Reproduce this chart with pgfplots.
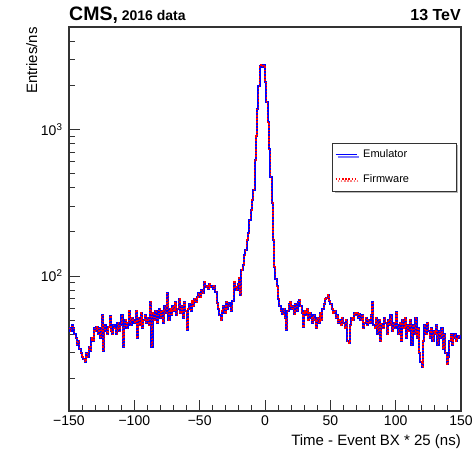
\documentclass[border=0pt]{standalone}
\usepackage{fontspec}
\setmainfont{Liberation Sans}
\usepackage{pgfplots}
\usepackage{pgfplotstable}
\pgfplotsset{compat=1.18}
\usetikzlibrary{shadows}

\pgfplotstableread[row sep=\\]{
x y\\
-150 44\\ -149 42\\ -148 46\\ -147 44\\ -146 40\\ -145 38\\ -144 34\\ -143 36\\ -142 32\\ -141 30\\
-140 28\\ -139 27\\ -138 26\\ -137 30\\ -136 28\\ -135 33\\ -134 31\\ -133 38\\ -132 36\\ -131 44\\
-130 42\\ -129 45\\ -128 40\\ -127 44\\ -126 38\\ -125 54\\ -124 31\\ -123 46\\ -122 42\\ -121 40\\
-120 45\\ -119 53\\ -118 42\\ -117 40\\ -116 46\\ -115 44\\ -114 40\\ -113 48\\ -112 42\\ -111 46\\
-110 54\\ -109 33\\ -108 46\\ -107 50\\ -106 44\\ -105 48\\ -104 58\\ -103 46\\ -102 52\\ -101 50\\
-100 48\\ -99 58\\ -98 38\\ -97 52\\ -96 46\\ -95 56\\ -94 44\\ -93 50\\ -92 54\\ -91 48\\
-90 52\\ -89 46\\ -88 67\\ -87 33\\ -86 56\\ -85 50\\ -84 58\\ -83 48\\ -82 54\\ -81 60\\
-80 52\\ -79 58\\ -78 48\\ -77 62\\ -76 56\\ -75 76\\ -74 50\\ -73 60\\ -72 54\\ -71 62\\
-70 58\\ -69 66\\ -68 54\\ -67 60\\ -66 70\\ -65 56\\ -64 62\\ -63 52\\ -62 66\\ -61 58\\
-60 43\\ -59 60\\ -58 64\\ -57 58\\ -56 68\\ -55 62\\ -54 70\\ -53 66\\ -52 72\\ -51 76\\
-50 72\\ -49 80\\ -48 76\\ -47 91\\ -46 84\\ -45 86\\ -44 82\\ -43 88\\ -42 84\\ -41 85\\
-40 82\\ -39 86\\ -38 78\\ -37 65\\ -36 60\\ -35 54\\ -34 50\\ -33 58\\ -32 62\\ -31 56\\
-30 67\\ -29 60\\ -28 65\\ -27 62\\ -26 58\\ -25 68\\ -24 91\\ -23 84\\ -22 80\\ -21 88\\
-20 97\\ -19 74\\ -18 110\\ -17 118\\ -16 139\\ -15 150\\ -14 176\\ -13 197\\ -12 240\\ -11 283\\
-10 330\\ -9 388\\ -8 620\\ -7 900\\ -6 1370\\ -5 1980\\ -4 2700\\ -3 2760\\ -2 2680\\ -1 2740\\
0 2100\\ 1 1530\\ 2 1120\\ 3 730\\ 4 476\\ 5 316\\ 6 176\\ 7 115\\ 8 95\\ 9 85\\
10 70\\ 11 62\\ 12 58\\ 13 55\\ 14 60\\ 15 52\\ 16 43\\ 17 58\\ 18 64\\ 19 67\\
20 60\\ 21 62\\ 22 55\\ 23 64\\ 24 58\\ 25 66\\ 26 69\\ 27 62\\ 28 56\\ 29 45\\
30 58\\ 31 54\\ 32 60\\ 33 50\\ 34 56\\ 35 52\\ 36 48\\ 37 54\\ 38 50\\ 39 44\\
40 52\\ 41 48\\ 42 56\\ 43 50\\ 44 60\\ 45 64\\ 46 70\\ 47 71\\ 48 74\\ 49 68\\
50 64\\ 51 60\\ 52 56\\ 53 58\\ 54 52\\ 55 54\\ 56 48\\ 57 50\\ 58 46\\ 59 52\\
60 48\\ 61 44\\ 62 50\\ 63 36\\ 64 35\\ 65 46\\ 66 52\\ 67 50\\ 68 56\\ 69 54\\
70 56\\ 71 52\\ 72 55\\ 73 50\\ 74 54\\ 75 44\\ 76 48\\ 77 52\\ 78 46\\ 79 50\\
80 48\\ 81 54\\ 82 66\\ 83 46\\ 84 44\\ 85 52\\ 86 40\\ 87 50\\ 88 36\\ 89 47\\
90 44\\ 91 52\\ 92 48\\ 93 40\\ 94 50\\ 95 46\\ 96 54\\ 97 42\\ 98 48\\ 99 44\\
100 57\\ 101 46\\ 102 40\\ 103 48\\ 104 36\\ 105 50\\ 106 44\\ 107 52\\ 108 38\\ 109 46\\
110 42\\ 111 50\\ 112 34\\ 113 46\\ 114 40\\ 115 52\\ 116 38\\ 117 44\\ 118 30\\ 119 26\\
120 24\\ 121 36\\ 122 46\\ 123 40\\ 124 48\\ 125 42\\ 126 38\\ 127 44\\ 128 36\\ 129 42\\
130 40\\ 131 46\\ 132 34\\ 133 42\\ 134 38\\ 135 44\\ 136 32\\ 137 40\\ 138 30\\ 139 25\\
140 28\\ 141 36\\ 142 40\\ 143 34\\ 144 38\\ 145 40\\ 146 36\\ 147 38\\ 148 39\\ 149 38\\
150 38\\
}\histdata

\begin{document}
\begin{tikzpicture}[x=1pt,y=1pt]
\useasboundingbox (0,0) rectangle (474,452);
\begin{axis}[
  at={(69pt,41pt)}, anchor=south west,
  scale only axis, width=392pt, height=384pt,
  ymode=log, xmin=-150, xmax=150, ymin=12, ymax=5000,
  axis line style={line width=1.6pt, draw=black!80},
  tick pos=left, tick align=inside,
  xtick={-150,-100,...,150},
  xticklabels={−150,−100,−50,0,50,100,150},
  minor xtick={-140,-130,...,140},
  ytick={100,1000},
  yticklabels={10\textsuperscript{2},10\textsuperscript{3}},
  minor ytick={20,30,40,50,60,70,80,90,200,300,400,500,600,700,800,900,2000,3000,4000},
  major tick length=11pt, minor tick length=5.5pt,
  every tick/.style={black!80, line width=1pt},
  tick label style={font=\fontsize{14}{16}\selectfont},
  xticklabel style={yshift=-1pt},
  yticklabel style={xshift=-3pt},
  legend style={at={(0.672,0.699)}, anchor=north west, draw=black!80, line width=0.8pt, fill=white,
    font=\fontsize{11}{13}\selectfont,
    drop shadow={shadow xshift=2pt, shadow yshift=-2pt, fill=black!55},
    inner xsep=2pt, inner ysep=5pt, row sep=11pt},
  legend cell align=left,
  legend image code/.code={\draw[#1, line width=1.4pt] (0pt,0pt) -- (21pt,0pt);},
]
\addplot[blue, line width=2pt, const plot] table[x=x,y=y]{\histdata};
\addlegendentry{\hspace*{4pt}Emulator\hspace*{43pt}}
\addplot[red, line width=1.4pt, dash pattern=on 1.6pt off 1.6pt, const plot] table[x=x,y=y]{\histdata};
\addlegendentry{\hspace*{4pt}Firmware\hspace*{43pt}}
\end{axis}
\node[anchor=base west, inner sep=0, font=\bfseries\fontsize{19.5}{21}\selectfont] at (69,431) {CMS,\fontsize{14}{16}\selectfont\ 2016 data};
\node[anchor=base east, inner sep=0, font=\bfseries\fontsize{16}{18}\selectfont] at (461,431) {13 TeV};
\node[anchor=base east, inner sep=0, font=\fontsize{15}{17}\selectfont] at (461,6) {Time - Event BX * 25 (ns)};
\node[rotate=90, anchor=base east, inner sep=0, font=\fontsize{15}{17}\selectfont] at (37,425) {Entries/ns};
\end{tikzpicture}
\end{document}
